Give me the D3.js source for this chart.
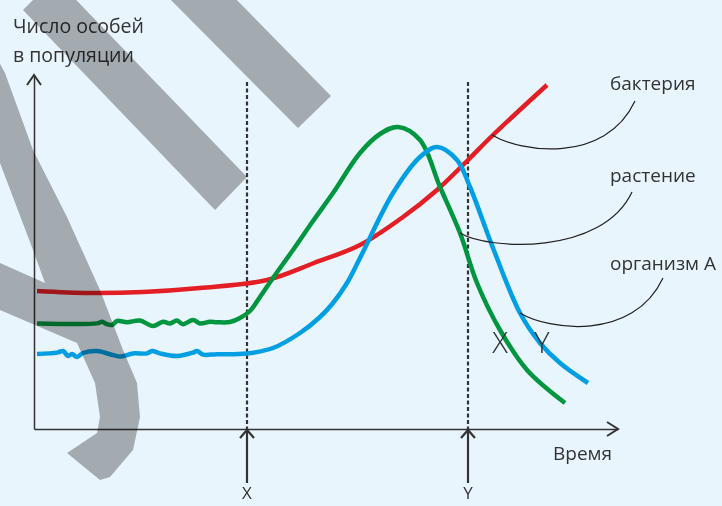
<!DOCTYPE html>
<html>
<head>
<meta charset="utf-8">
<script src="https://cdn.jsdelivr.net/npm/d3@7"></script>
<style>
  body { margin: 0; background: #e8f5fd; }
  svg { display: block; }
  text { font-family: "Open Sans", sans-serif; fill: #333; }
</style>
</head>
<body>
<div id="chart"></div>
<script>
// values: time (0..146) and population (0..88.5)
var bacteria = [[0.75,34.5],[14,34],[27.25,34.25],[41.5,35.25],[58.25,37.25],[70,41.5],[81.5,46],
  [92.25,53],[100.75,59.75],[108.5,67.25],[114.75,73.5],[128.25,86]];
var plant = [[0.75,26.4],[15.75,26.4],[17,26.8],[18.25,26.2],[19.5,26],[20.75,27],[23.25,26.7],[26.5,27.1],
  [29.75,25.75],[32.25,26.8],[34,26.4],[35.75,27.1],[37.25,26.2],[39.75,27.25],[41.5,26.4],[44,26.8],
  [45.75,26.7],[49,26.75],[51.5,27.75],[54,29.5],[56.5,33],[59.75,37.75],[64.75,44.75],[69.75,52],
  [74.75,59],[81.5,69],[86.5,73.75],[91,75.5],[96.5,72.25],[101.5,60.5],[106.5,49],[110.75,36.5],
  [116.5,24.75],[123.25,14.75],[132.75,6.5]];
var organismA = [[0.75,18.75],[5.75,19.1],[7.25,19.5],[8.5,18.25],[9.5,18.75],[10.75,18],[12.25,19],
  [15.75,19.5],[19,18.7],[21.5,18.1],[24.75,18.9],[28.25,18.9],[29.5,19.5],[31.5,18.9],[35.75,18.25],
  [39.75,19.1],[40.75,19.5],[42.25,18.6],[45.75,18.7],[53.25,18.9],[59.75,20.25],[66.5,24],[71.5,28],
  [74.75,31.5],[78.25,36.5],[81.5,42.75],[89.75,59],[96.5,68],[100.75,70.5],[105.75,67.25],[109,60.5],
  [114.75,45.25],[121.5,29],[126.5,21.5],[131.5,16.5],[138.5,11.5]];

var seriesNames = ["бактерия", "растение", "организм А"];
var seriesColors = ["#e31e24", "#00963f", "#009fe3"];
// label anchor [t, n], leader start on curve [t, n], leader end [t, n]
var labelPos = [[144, 84.75], [144, 61.75], [144, 39.75]];
var leaderFrom = [[114.5, 73.5], [106.5, 49], [121.5, 29]];
var leaderTo = [[150.25, 82], [149.5, 59.25], [157.25, 37.75]];

var markTimes = [53.25, 108.5];
var markNames = ["X", "Y"];
var crossLabels = [["X", 116.5, 19], ["Y", 127, 19]];

// gray watermark bands, in chart units
var bandA = [[-2.75,104.75],[45.25,54.75],[53.25,63],[5.25,112.75]];
var bandB = [[31.75,109.75],[66,75.25],[74.25,83.25],[48.25,109.75]];
var bandC = [[-11,96],[-7.25,89],[-0.25,69.75],[8.25,53],[16.5,34.75],[22.25,19.75],[25.75,11.5],
  [26.5,3],[24.75,-5.25],[19,-12],[16.5,-12.75],[8.25,-6],[15.75,-1],[16.5,3],[15.25,11.5],[10.75,21.5],
  [-8.5,29.75],[-11,31],[-11,41.75],[-8.5,41.5],[2.75,36.5],[-0.25,44.75],[-8.5,66.5],[-11,72.25]];

var width = 722, height = 506;
var svg = d3.select("#chart").append("svg")
    .attr("width", width)
    .attr("height", height);

svg.append("rect").attr("width", width).attr("height", height).attr("fill", "#e8f5fd");

var x = d3.scaleLinear().domain([0, 146]).range([34, 618]);
var y = d3.scaleLinear().domain([0, 88.5]).range([429, 75]);

// axes without ticks
svg.append("g")
    .attr("transform", "translate(0," + y(0) + ")")
    .call(d3.axisBottom(x).ticks(0).tickSizeOuter(0))
    .select(".domain").attr("stroke", "#333").attr("stroke-width", 1.5);
svg.append("g")
    .attr("transform", "translate(" + x(0) + ",0)")
    .call(d3.axisLeft(y).ticks(0).tickSizeOuter(0))
    .select(".domain").attr("stroke", "#333").attr("stroke-width", 1.5);

// arrow heads
svg.append("path")
    .attr("d", "M" + (x(146) - 11) + "," + (y(0) - 7) + "L" + x(146) + "," + y(0) + "L" + (x(146) - 11) + "," + (y(0) + 7))
    .attr("fill", "none").attr("stroke", "#333").attr("stroke-width", 2);
svg.append("path")
    .attr("d", "M" + (x(0) - 7) + "," + (y(88.5) + 10) + "L" + x(0) + "," + y(88.5) + "L" + (x(0) + 7) + "," + (y(88.5) + 10))
    .attr("fill", "none").attr("stroke", "#333").attr("stroke-width", 2);

// dashed markers X and Y
markTimes.forEach(function(t, i) {
    svg.append("line")
        .attr("x1", x(t)).attr("x2", x(t))
        .attr("y1", y(86.75)).attr("y2", y(0))
        .attr("stroke", "#333").attr("stroke-width", 2.2)
        .attr("stroke-dasharray", "4 2.5");
    svg.append("line")
        .attr("x1", x(t)).attr("x2", x(t))
        .attr("y1", y(-13.5)).attr("y2", y(0) + 1)
        .attr("stroke", "#333").attr("stroke-width", 2.2);
    svg.append("path")
        .attr("d", "M" + (x(t) - 7) + "," + (y(0) + 9) + "L" + x(t) + "," + (y(0) + 1) + "L" + (x(t) + 7) + "," + (y(0) + 9))
        .attr("fill", "none").attr("stroke", "#333").attr("stroke-width", 2.2);
    svg.append("text")
        .attr("x", x(t)).attr("y", y(-17.5))
        .attr("text-anchor", "middle")
        .attr("font-size", "17px")
        .text(markNames[i]);
});

var line = d3.line()
    .x(function(d) { return x(d[0]); })
    .y(function(d) { return y(d[1]); })
    .curve(d3.curveCatmullRom.alpha(0.5));

[bacteria, plant, organismA].forEach(function(s, i) {
    svg.append("path")
        .attr("d", line(s))
        .attr("fill", "none")
        .attr("stroke", seriesColors[i])
        .attr("stroke-width", 4.5)
        .attr("stroke-linecap", "butt");
});

// labels with curved leaders
seriesNames.forEach(function(name, i) {
    svg.append("text")
        .attr("x", x(labelPos[i][0])).attr("y", y(labelPos[i][1]))
        .attr("font-size", "19px")
        .text(name);
    var x0 = x(leaderFrom[i][0]), y0 = y(leaderFrom[i][1]);
    var x1 = x(leaderTo[i][0]), y1 = y(leaderTo[i][1]);
    svg.append("path")
        .attr("d", "M" + x0 + "," + y0 + "C" + (x0 + 28) + "," + (y0 + 17) + " " + (x1 - 30) + "," + (y1 + 64) + " " + x1 + "," + y1)
        .attr("fill", "none").attr("stroke", "#231f20").attr("stroke-width", 1.2);
});

crossLabels.forEach(function(d) {
    svg.append("text")
        .attr("x", x(d[1])).attr("y", y(d[2]))
        .attr("text-anchor", "middle")
        .attr("font-size", "29px")
        .attr("font-weight", 300)
        .text(d[0]);
});

svg.append("text")
    .attr("x", x(129.75)).attr("y", y(-7.75))
    .attr("font-size", "19px")
    .text("Время");
svg.append("text")
    .attr("x", x(-5.25)).attr("y", y(99))
    .attr("font-size", "19.5px")
    .text("Число особей");
svg.append("text")
    .attr("x", x(-5.25)).attr("y", y(91.75))
    .attr("font-size", "19.5px")
    .text("в популяции");

// watermark bands, multiplied over the drawing
var band = d3.line()
    .x(function(d) { return x(d[0]); })
    .y(function(d) { return y(d[1]); });
var wm = svg.append("g").style("mix-blend-mode", "multiply");
[bandA, bandB, bandC].forEach(function(b) {
    wm.append("path")
        .attr("d", band(b) + "Z")
        .attr("fill", "rgb(180,178,178)");
});
</script>
</body>
</html>
